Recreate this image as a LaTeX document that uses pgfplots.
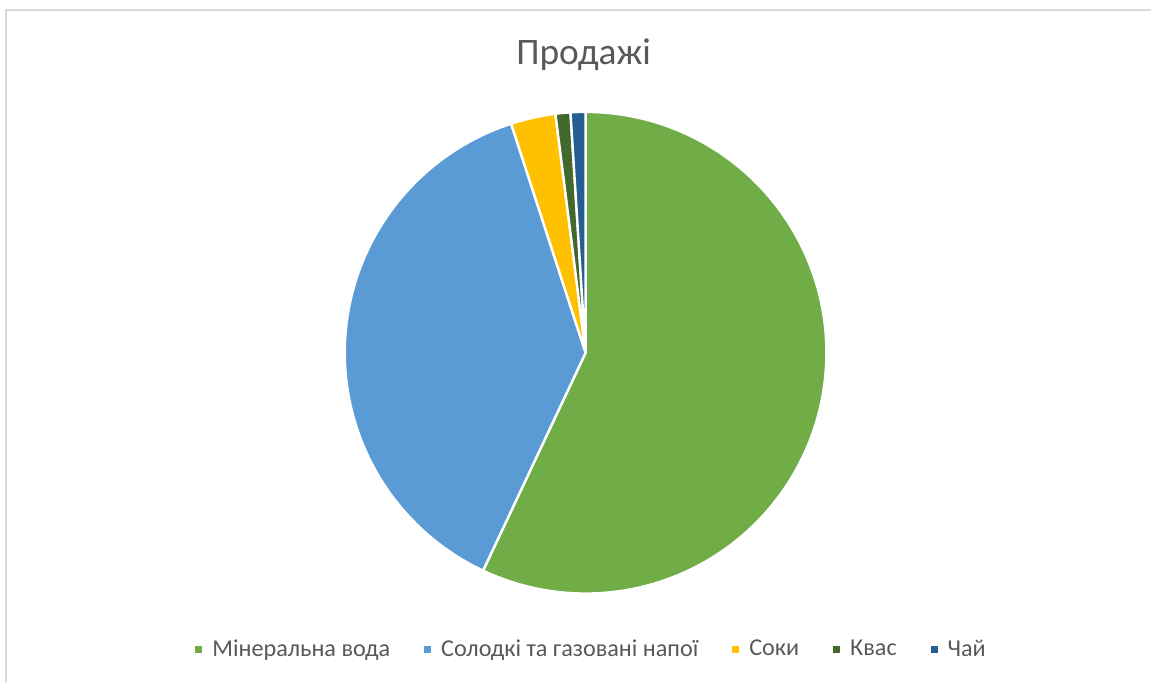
\documentclass[border=0pt]{standalone}
\usepackage{pgfplots}
\pgfplotsset{compat=1.18}
\usepackage{fontspec}
\setmainfont{Carlito}
\definecolor{cGreen}{HTML}{70AD47}
\definecolor{cBlue}{HTML}{5B9BD5}
\definecolor{cYellow}{HTML}{FFC000}
\definecolor{cDkGreen}{HTML}{43682B}
\definecolor{cDkBlue}{HTML}{255E91}
\definecolor{txt}{HTML}{595959}
% values (percent), clockwise from 12 o'clock
\def\vA{57}\def\vB{38}\def\vC{3}\def\vD{1}\def\vE{1}
\begin{document}
\begin{tikzpicture}
\begin{axis}[
  scale only axis, width=576pt, height=341pt,
  xmin=0, xmax=1152, ymin=0, ymax=682,
  hide axis, clip=false,
  legend columns=-1,
  legend style={at={(axis cs:591,32)}, anchor=center, draw=none, fill=none,
    font=\fontsize{12.1}{14}\selectfont\color{txt},
    /tikz/every odd column/.append style={column sep=5pt},
    /tikz/every even column/.append style={column sep=17pt},
    nodes={inner xsep=0pt, inner ysep=1pt}},
  legend image code/.code={\fill[#1,draw=none] (0pt,-1.75pt) rectangle (3.5pt,1.75pt);},
]
\fill[white] (axis cs:0,0) rectangle (axis cs:1152,682);
\draw[gray!30, line width=0.8pt] (axis cs:6,0) -- (axis cs:6,672) -- (axis cs:1152,672);
\pgfmathsetmacro{\aA}{0}
\pgfmathsetmacro{\aB}{\aA+3.6*\vA}
\pgfmathsetmacro{\aC}{\aB+3.6*\vB}
\pgfmathsetmacro{\aD}{\aC+3.6*\vC}
\pgfmathsetmacro{\aE}{\aD+3.6*\vD}
\pgfmathsetmacro{\aF}{\aE+3.6*\vE}
\addplot[fill=cGreen, draw=white, line width=1.2pt, domain=\aA:\aB, samples=120, variable=\t]
  ({586+241*sin(\t)},{329+241*cos(\t)}) -- (axis cs:586,329) -- cycle;
\addlegendentry{Мінеральна вода}
\addplot[fill=cBlue, draw=white, line width=1.2pt, domain=\aB:\aC, samples=100, variable=\t]
  ({586+241*sin(\t)},{329+241*cos(\t)}) -- (axis cs:586,329) -- cycle;
\addlegendentry{Солодкі та газовані напої}
\addplot[fill=cYellow, draw=white, line width=1.2pt, domain=\aC:\aD, samples=10, variable=\t]
  ({586+241*sin(\t)},{329+241*cos(\t)}) -- (axis cs:586,329) -- cycle;
\addlegendentry{Соки}
\addplot[fill=cDkGreen, draw=white, line width=1.2pt, domain=\aD:\aE, samples=5, variable=\t]
  ({586+241*sin(\t)},{329+241*cos(\t)}) -- (axis cs:586,329) -- cycle;
\addlegendentry{Квас}
\addplot[fill=cDkBlue, draw=white, line width=1.2pt, domain=\aE:\aF, samples=5, variable=\t]
  ({586+241*sin(\t)},{329+241*cos(\t)}) -- (axis cs:586,329) -- cycle;
\addlegendentry{Чай}
\node[text=txt, font=\fontsize{18.7}{22}\selectfont] at (axis cs:584,627) {Продажі};
\end{axis}
\end{tikzpicture}
\end{document}
